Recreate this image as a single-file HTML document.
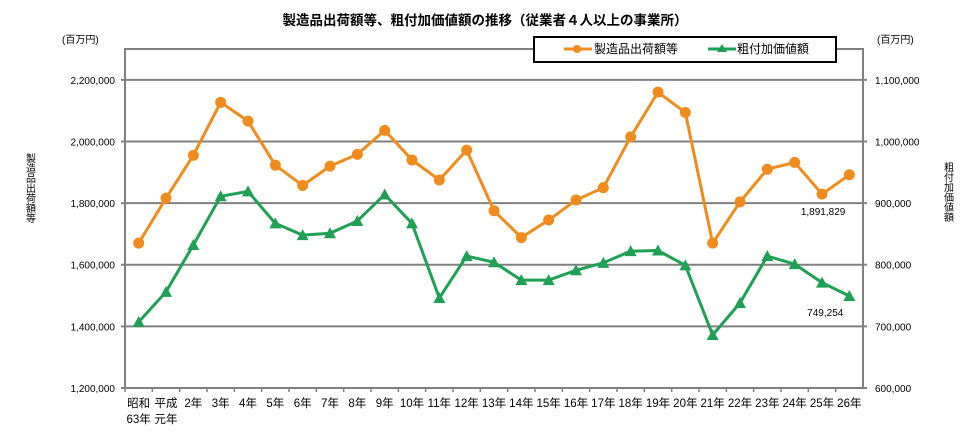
<!DOCTYPE html>
<html><head><meta charset="utf-8"><style>
body{margin:0;background:#fff;}
svg text{font-family:"Liberation Sans","Noto Sans CJK JP",sans-serif;}
</style></head><body>
<svg id="chart" width="966" height="429" xmlns="http://www.w3.org/2000/svg">
<text x="485" y="25" text-anchor="middle" font-size="13.5" font-weight="bold" fill="#000">製造品出荷額等、粗付加価値額の推移（従業者４人以上の事業所）</text>
<text x="62" y="43" font-size="10">(百万円)</text>
<text x="877" y="43" font-size="10">(百万円)</text>
<text x="29" y="153" font-size="10" writing-mode="tb">製造品出荷額等</text>
<text x="947" y="162" font-size="10" writing-mode="tb">粗付加価値額</text>
<g id="grid"></g><g id="series"></g>
<g>
<rect x="534" y="37" width="302" height="25" fill="#fff" stroke="#000" stroke-width="2"/>
<line x1="564" y1="49" x2="592" y2="49" stroke="#F08C1E" stroke-width="3"/><circle cx="577" cy="49" r="4" fill="#F08C1E"/>
<text x="594" y="53" font-size="12">製造品出荷額等</text>
<line x1="708" y1="49" x2="736" y2="49" stroke="#1FA055" stroke-width="3"/><polygon points="722,44 727,52 717,52" fill="#1FA055"/>
<text x="737" y="53" font-size="12">粗付加価値額</text>
</g>
</svg>
<script>
const categories=["昭和|63年","平成|元年","2年","3年","4年","5年","6年","7年","8年","9年","10年","11年","12年","13年","14年","15年","16年","17年","18年","19年","20年","21年","22年","23年","24年","25年","26年"];
const shipments=[1670000,1816000,1955000,2127000,2066000,1923000,1857000,1920000,1958000,2036000,1940000,1875000,1972000,1775000,1688000,1745000,1810000,1850000,2015000,2160000,2094000,1670000,1804000,1910000,1932000,1829000,1891829];
const valueAdded=[707000,756000,832000,911000,919000,867000,848000,851000,871000,914000,867000,746000,814000,804000,775000,775000,791000,803000,822000,823000,799000,686000,738000,814000,801000,771000,749254];
const leftTicks=[1200000,1400000,1600000,1800000,2000000,2200000];
const rightTicks=[600000,700000,800000,900000,1000000,1100000];
const NS="http://www.w3.org/2000/svg";
const L=125,R=863,T=49,B=388;
const yL=v=>B-(v-1200000)/1100000*(B-T);
const yR=v=>B-(v-600000)/550000*(B-T);
const step=(R-L)/categories.length;
const x=i=>L+step*(i+0.5);
const fmt=v=>v.toLocaleString("en-US");
function mk(tag,attrs,parent){const e=document.createElementNS(NS,tag);for(const k in attrs)e.setAttribute(k,attrs[k]);parent.appendChild(e);return e;}
const g=document.getElementById("grid"),s=document.getElementById("series");
let el=mk("rect",{x:L,y:T,width:R-L,height:B-T,fill:"none",stroke:"#808080","stroke-width":2},g);


leftTicks.forEach((v,i)=>{
 el=mk("line",{x1:L-4,x2:R,y1:yL(v),y2:yL(v),stroke:"#808080","stroke-width":2},g);
 
 
 el=mk("text",{x:L-10,y:yL(v)+4,"text-anchor":"end","font-size":10},g);el.textContent=fmt(v);
 
 
});
rightTicks.forEach(v=>{
 mk("line",{x1:R,x2:R+4,y1:yR(v),y2:yR(v),stroke:"#808080","stroke-width":2},g);
 el=mk("text",{x:R+12,y:yR(v)+4,"font-size":10},g);el.textContent=fmt(v);
 
 
});
categories.forEach((c,i)=>{
 mk("line",{x1:L+step*i,x2:L+step*i,y1:B,y2:B+4,stroke:"#808080","stroke-width":1.5},g);
 const parts=c.split("|");
 parts.forEach((p,j)=>{el=mk("text",{x:x(i),y:407+j*16,"text-anchor":"middle","font-size":11.5},g);el.textContent=p;
 
 });
});
function line(vals,yf,color,name){
 el=mk("polyline",{points:vals.map((v,i)=>x(i)+","+yf(v)).join(" "),fill:"none",stroke:color,"stroke-width":3},s);
 
 
}
line(shipments,yL,"#F08C1E","shipments");
line(valueAdded,yR,"#1FA055","value-added");
shipments.forEach((v,i)=>{el=mk("circle",{cx:x(i),cy:yL(v),r:5.5,fill:"#F08C1E"},s);
 
 });
valueAdded.forEach((v,i)=>{const cx=x(i),cy=yR(v);el=mk("polygon",{points:`${cx},${cy-6} ${cx+6},${cy+5} ${cx-6},${cy+5}`,fill:"#1FA055"},s);
 
 });
const n=categories.length-1;
el=mk("text",{x:x(n)-4,y:yL(shipments[n])+40,"text-anchor":"end","font-size":10,fill:"#000"},s);el.textContent=fmt(shipments[n]);


el=mk("text",{x:x(n)-6,y:yR(valueAdded[n])+20,"text-anchor":"end","font-size":10,fill:"#000"},s);el.textContent=fmt(valueAdded[n]);


</script>
</body></html>
